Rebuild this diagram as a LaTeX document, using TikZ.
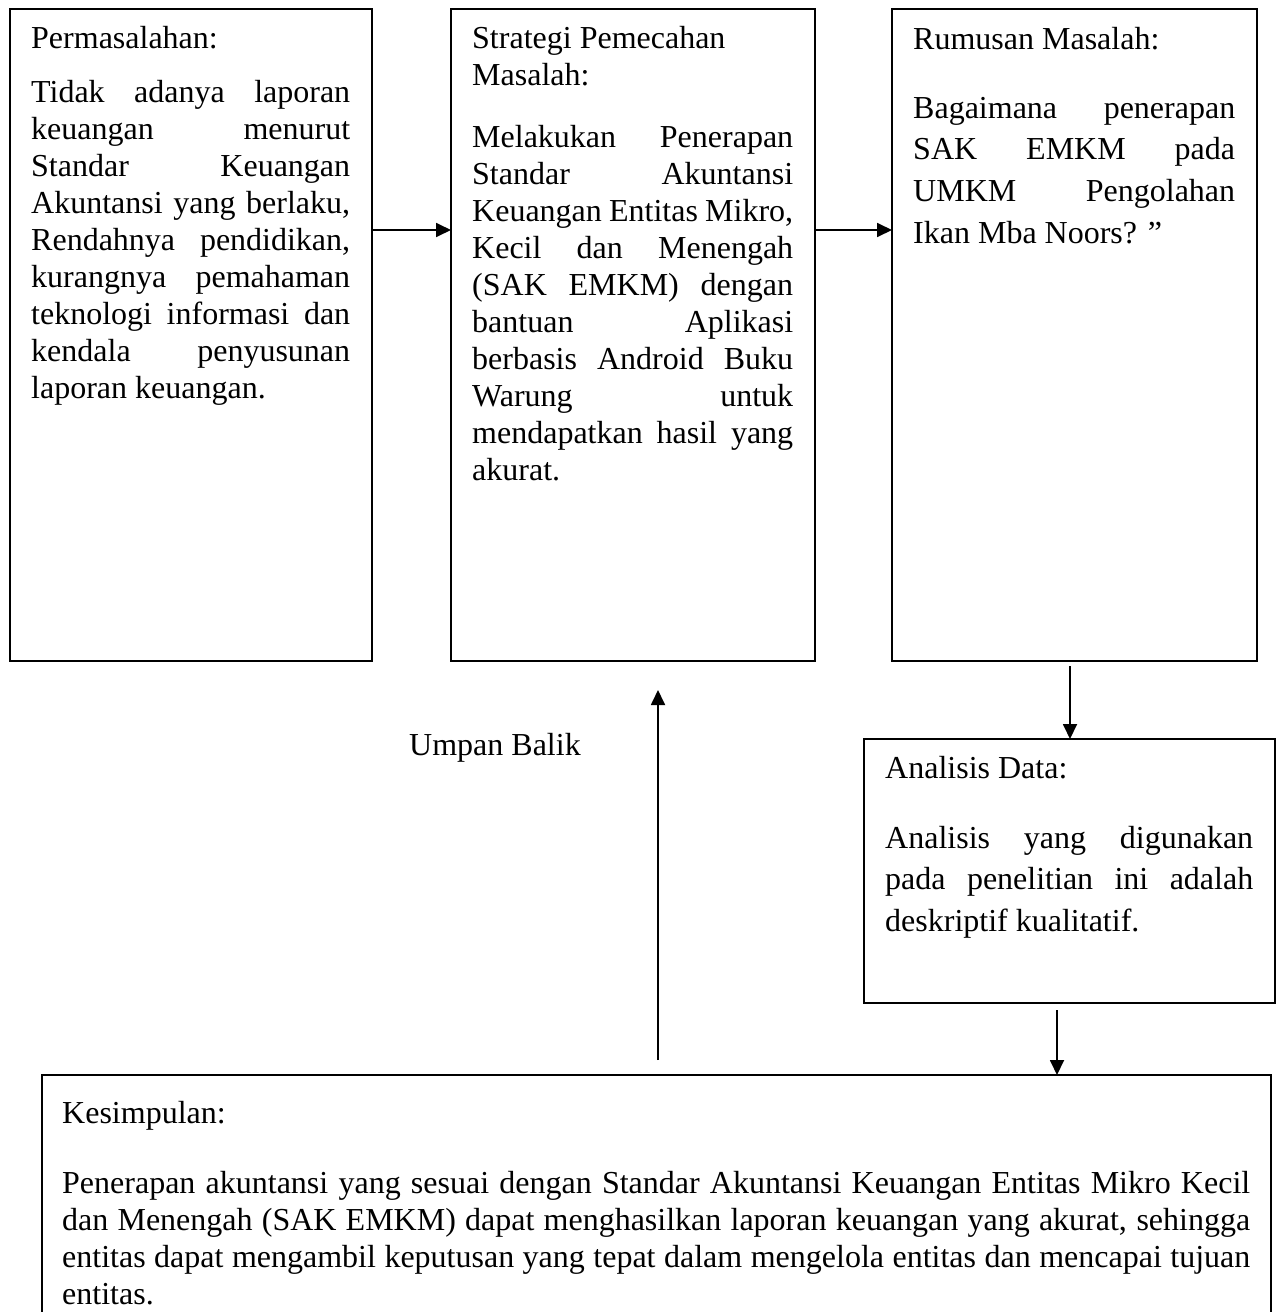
\documentclass[tikz,border=0pt]{standalone}
\usepackage{fontspec}
\setmainfont{Liberation Serif}
\usetikzlibrary{arrows.meta,calc}
\hbadness=10000
\newcommand{\jl}[1]{\makebox[\linewidth][s]{#1}}
\begin{document}
\begin{tikzpicture}[x=1pt,y=-1pt,
  box/.style={draw, line width=1.8pt, inner sep=0pt, outer sep=0pt, anchor=north west},
  arr/.style={line width=1.8pt, -{Triangle[length=15pt,width=14pt]}},
  txt/.style={anchor=base west, inner sep=0pt, font=\fontsize{32}{37}\selectfont},
  txtw/.style={anchor=base west, inner sep=0pt, font=\fontsize{32}{41.7}\selectfont}]
\useasboundingbox (0,0) rectangle (1279,1312);
\clip (0,0) rectangle (1279,1312);

% boxes
\node[box, minimum width=362pt, minimum height=652pt] (b1) at (10,9) {};
\node[box, minimum width=364pt, minimum height=652pt] (b2) at (451,9) {};
\node[box, minimum width=365pt, minimum height=652pt] (b3) at (892,9) {};
\node[box, minimum width=411pt, minimum height=264pt] (b4) at (864,739) {};
\node[box, minimum width=1229pt, minimum height=320pt] (b5) at (42,1075) {};

% box 1
\node[txt] (h1) at (31,48) {Permasalahan:};
\node[txt] (t1) at (31,102) {\parbox[t]{319pt}{%
\jl{Tidak adanya laporan}\\
\jl{keuangan menurut}\\
\jl{Standar Keuangan}\\
\jl{Akuntansi yang berlaku,}\\
\jl{Rendahnya pendidikan,}\\
\jl{kurangnya pemahaman}\\
\jl{teknologi informasi dan}\\
\jl{kendala penyusunan}\\
laporan keuangan.}};

% box 2
\node[txt] (h2) at (472,48) {\parbox[t]{321pt}{Strategi Pemecahan\\ Masalah:}};
\node[txt] (t2) at (472,147) {\parbox[t]{321pt}{%
\jl{Melakukan Penerapan}\\
\jl{Standar Akuntansi}\\
\jl{Keuangan Entitas Mikro,}\\
\jl{Kecil dan Menengah}\\
\jl{(SAK EMKM) dengan}\\
\jl{bantuan Aplikasi}\\
\jl{berbasis Android Buku}\\
\jl{Warung untuk}\\
\jl{mendapatkan hasil yang}\\
akurat.}};

% box 3
\node[txtw] (h3) at (913,49) {Rumusan Masalah:};
\node[txtw] (t3) at (913,118) {\parbox[t]{322pt}{%
\jl{Bagaimana penerapan}\\
\jl{SAK EMKM pada}\\
\jl{UMKM Pengolahan}\\
Ikan Mba Noors? ”}};

% box 4
\node[txtw] (h4) at (885,778) {Analisis Data:};
\node[txtw] (t4) at (885,848) {\parbox[t]{368pt}{%
\jl{Analisis yang digunakan}\\
\jl{pada penelitian ini adalah}\\
deskriptif kualitatif.}};

% box 5
\node[txt] (h5) at (62,1123) {Kesimpulan:};
\node[txt] (t5) at (62,1193) {\parbox[t]{1188pt}{%
\jl{Penerapan akuntansi yang sesuai dengan Standar Akuntansi Keuangan Entitas Mikro Kecil}\\
\jl{dan Menengah (SAK EMKM) dapat menghasilkan laporan keuangan yang akurat, sehingga}\\
\jl{entitas dapat mengambil keputusan yang tepat dalam mengelola entitas dan mencapai tujuan}\\
entitas.}};

% feedback label
\node[anchor=base, inner sep=0pt, font=\fontsize{32}{37}\selectfont] (ub) at (495,755) {Umpan Balik};

% connectors
\draw[arr] ($(b1.north east)+(0,221)$) -- ($(b2.north west)+(0,221)$);
\draw[arr] ($(b2.north east)+(0,221)$) -- ($(b3.north west)+(0,221)$);
\coordinate (c1) at ($(b3.south)+(-4.5,5)$);
\draw[arr] (c1) -- (c1 |- b4.north);
\coordinate (c2) at ($(b4.south)+(-12.5,7)$);
\draw[arr] (c2) -- (c2 |- b5.north);
\coordinate (c3) at ($(b5.north)+(1.5,-15)$);
\coordinate (c4) at ($(b2.south)+(0,29)$);
\draw[arr] (c3) -- (c3 |- c4);
\end{tikzpicture}
\end{document}
